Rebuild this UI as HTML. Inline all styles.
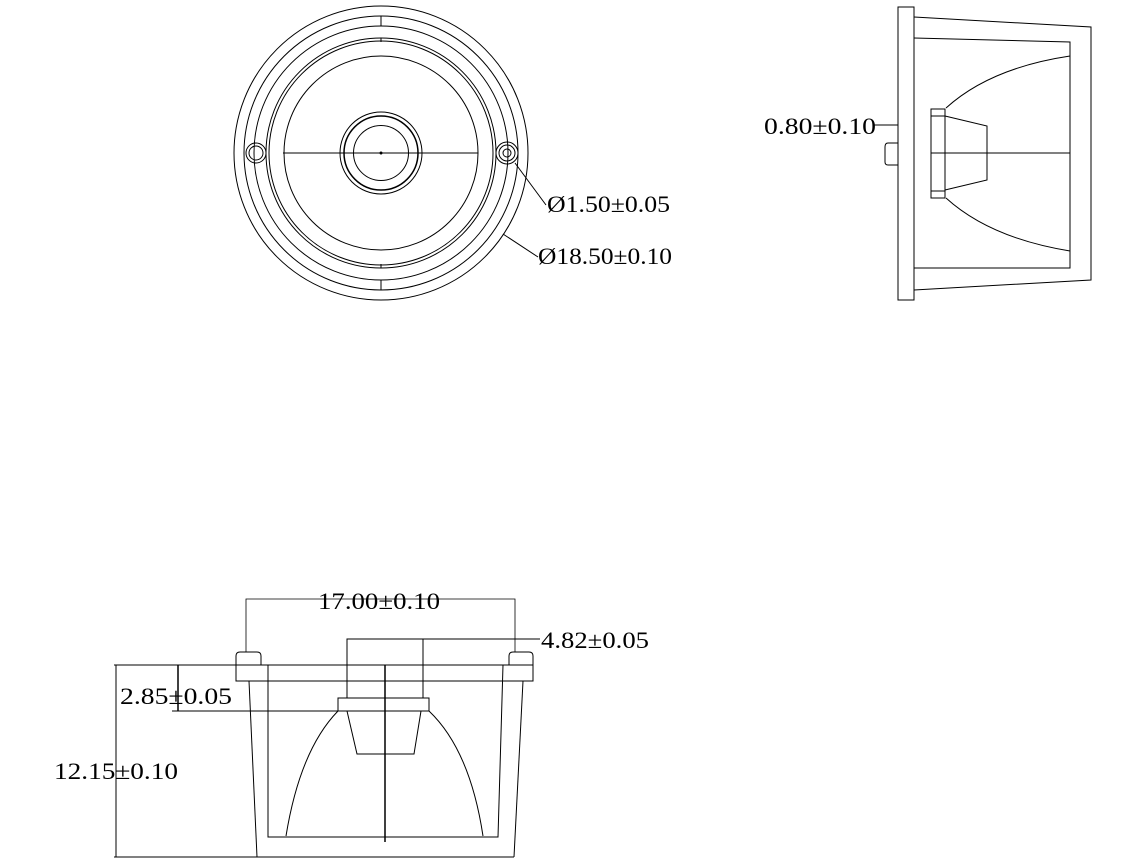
<!DOCTYPE html>
<html><head><meta charset="utf-8"><style>html,body{margin:0;padding:0;background:#fff}svg{display:block}text{font-family:"Liberation Serif",serif;font-size:23px;fill:#000}</style></head><body>
<svg width="1131" height="862" viewBox="0 0 1131 862" xmlns="http://www.w3.org/2000/svg">
<g fill="none" stroke="#000" stroke-width="1">
<!-- top view -->
<circle cx="381" cy="153" r="147"/>
<circle cx="381" cy="153" r="137"/>
<circle cx="381" cy="153" r="127"/>
<circle cx="381" cy="153" r="115"/>
<circle cx="381" cy="153" r="112"/>
<circle cx="381" cy="153" r="97"/>
<circle cx="381" cy="153" r="41"/>
<circle cx="381" cy="153" r="37" stroke-width="1.5"/>
<circle cx="381" cy="153" r="27.5"/>
<line x1="283" y1="153" x2="478" y2="153"/>
<circle cx="381" cy="153" r="1" fill="#000"/>
<circle cx="256" cy="153" r="10"/><circle cx="256" cy="153" r="7"/>
<circle cx="507" cy="153" r="11"/><circle cx="507" cy="153" r="8"/><circle cx="507" cy="153" r="4"/>
<line x1="381" y1="16" x2="381" y2="26"/><line x1="381" y1="38" x2="381" y2="42"/>
<line x1="381" y1="264" x2="381" y2="268"/><line x1="381" y1="280" x2="381" y2="290"/>
<line x1="515" y1="163" x2="546" y2="205"/>
<line x1="503" y1="234" x2="538" y2="257"/>
<!-- side view -->
<rect x="898" y="7" width="16" height="293"/>
<polyline points="914,17 1091,27 1091,280 914,290"/>
<polyline points="914,38 1070,42 1070,268 914,268"/>
<path d="M946,108 Q990,68 1070,56"/>
<path d="M946,198 Q990,238 1070,251"/>
<rect x="931" y="109" width="14" height="89"/>
<line x1="931" y1="116" x2="945" y2="116"/><line x1="931" y1="191" x2="945" y2="191"/>
<polyline points="945,116 987,126 987,180 945,190"/>
<line x1="931" y1="153" x2="1070" y2="153"/>
<path d="M898,143 H888 Q885,143 885,147 V162 Q885,165 888,165 H898"/>
<line x1="873" y1="125" x2="898" y2="125"/>
<!-- bottom view -->
<polyline points="246,652 246,599 515,599 515,652" stroke-width="0.8"/>
<path d="M236,665 V656 Q236,652 240,652 H257 Q261,652 261,656 V665"/>
<path d="M509,665 V656 Q509,652 513,652 H529 Q533,652 533,656 V665"/>
<rect x="236" y="665" width="297" height="16"/>
<line x1="249" y1="681" x2="257" y2="857"/>
<line x1="523" y1="681" x2="514" y2="857"/>
<polyline points="268,665 268,837 498,837 503,665"/>
<line x1="114" y1="857" x2="514" y2="857"/>
<line x1="116" y1="665" x2="116" y2="857"/>
<line x1="114" y1="665" x2="236" y2="665"/>
<line x1="385" y1="665" x2="385" y2="842" stroke-width="1.5"/>
<polyline points="347,698 347,639 423,639 423,698"/>
<line x1="423" y1="639" x2="540" y2="639"/>
<rect x="338" y="698" width="91" height="13"/>
<polyline points="347,711 357,754 414,754 421,711"/>
<path d="M338,711 Q300,750 286,836"/>
<path d="M429,711 Q470,750 483,836"/>
<line x1="178" y1="665" x2="178" y2="711" stroke-width="1.5"/>
<line x1="172" y1="711" x2="338" y2="711"/>
</g>
<text x="547" y="212" textLength="123" lengthAdjust="spacingAndGlyphs">Ø1.50±0.05</text>
<text x="538" y="264" textLength="134" lengthAdjust="spacingAndGlyphs">Ø18.50±0.10</text>
<text x="764" y="134" textLength="112" lengthAdjust="spacingAndGlyphs">0.80±0.10</text>
<text x="318" y="609" textLength="122" lengthAdjust="spacingAndGlyphs">17.00±0.10</text>
<text x="541" y="648" textLength="108" lengthAdjust="spacingAndGlyphs">4.82±0.05</text>
<text x="120" y="704" textLength="112" lengthAdjust="spacingAndGlyphs">2.85±0.05</text>
<text x="54" y="779" textLength="124" lengthAdjust="spacingAndGlyphs">12.15±0.10</text>
</svg>
</body></html>
